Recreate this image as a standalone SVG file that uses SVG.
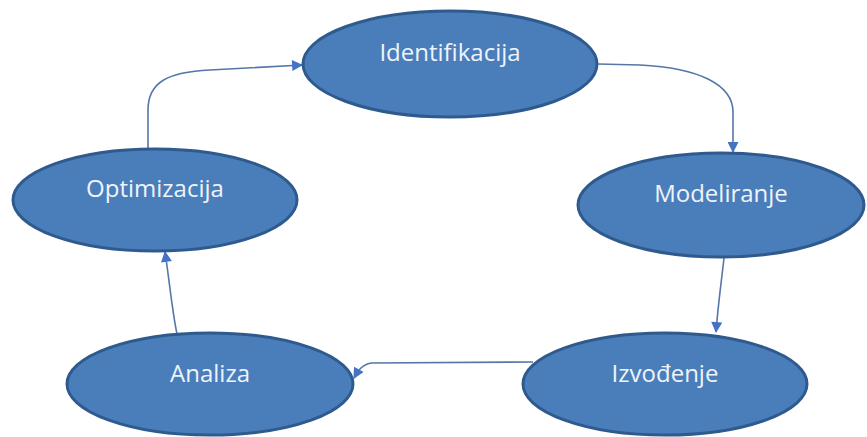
<svg xmlns="http://www.w3.org/2000/svg" width="867" height="437" viewBox="0 0 867 437">
<style>
.node ellipse{fill:#4a7ebb;stroke:#2f5a8e;stroke-width:3}
.node text{font-family:"Open Sans","Noto Sans",sans-serif;font-size:24px;fill:#eef4fa;text-anchor:middle}
.conn path{fill:none;stroke:#5577a8;stroke-width:1.6}
</style>
<defs>
<marker id="arr" viewBox="0 0 10 10" refX="9" refY="5" markerWidth="12" markerHeight="11" markerUnits="userSpaceOnUse" orient="auto">
<path d="M0,0 L10,5 L0,10 z" fill="#4472c4"/>
</marker>
</defs>
<rect width="867" height="437" fill="#ffffff"/>
<g id="connectors" class="conn">
<path d="M148,150 L148,110 C148,82 168,72 210,70 L302,65" marker-end="url(#arr)"/>
<path d="M598,64 L640,65 C700,68 733,85 733,112 L733,152" marker-end="url(#arr)"/>
<path d="M724,258 C721,285 718,305 716,332" marker-end="url(#arr)"/>
<path d="M533,362 L372,363 C363,364 359,369 354,378" marker-end="url(#arr)"/>
<path d="M177,334 C172,310 170,285 165,252" marker-end="url(#arr)"/>
</g>
<g id="identifikacija" class="node">
<ellipse cx="450" cy="64" rx="147" ry="53"/>
<text x="450" y="61">Identifikacija</text>
</g>
<g id="optimizacija" class="node">
<ellipse cx="155" cy="200" rx="142" ry="51"/>
<text x="155" y="197">Optimizacija</text>
</g>
<g id="modeliranje" class="node">
<ellipse cx="721" cy="205" rx="143" ry="52"/>
<text x="721" y="202">Modeliranje</text>
</g>
<g id="izvodjenje" class="node">
<ellipse cx="665" cy="384" rx="142" ry="51"/>
<text x="665" y="382">Izvođenje</text>
</g>
<g id="analiza" class="node">
<ellipse cx="210" cy="384" rx="143" ry="51"/>
<text x="210" y="382">Analiza</text>
</g>
</svg>
